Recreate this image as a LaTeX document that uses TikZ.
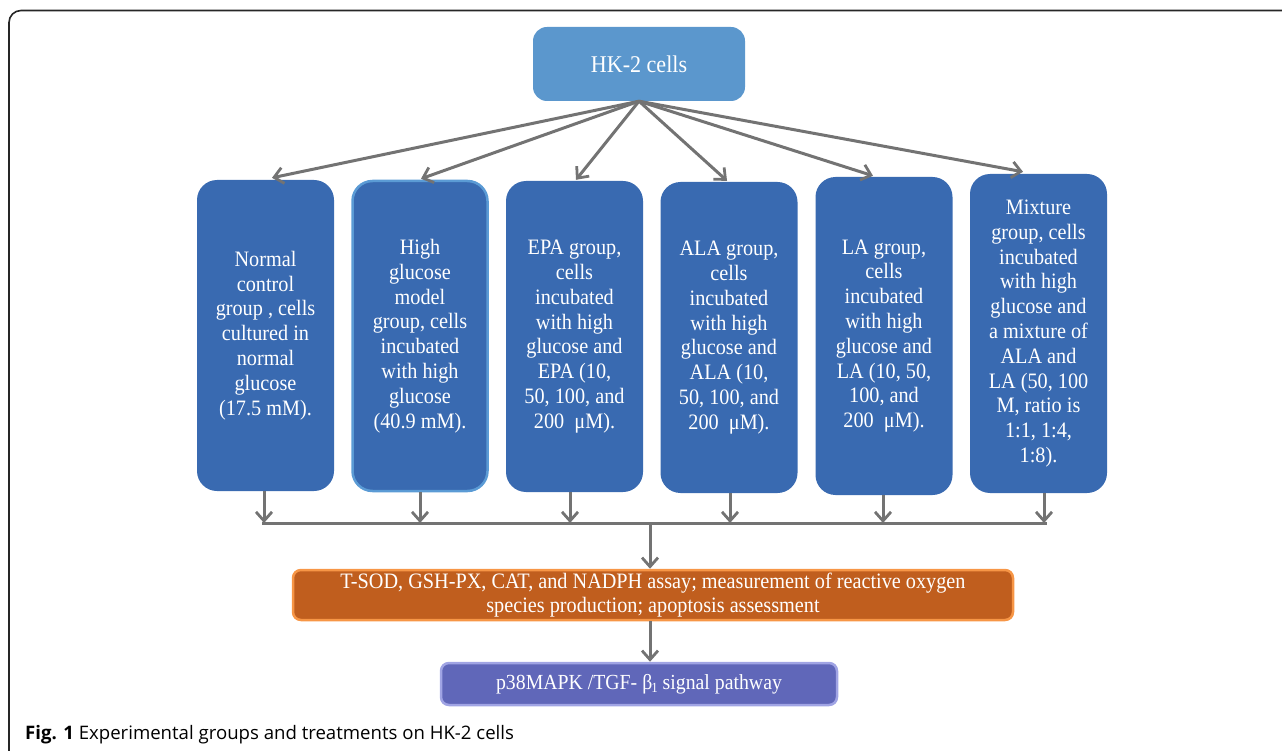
\documentclass[tikz,border=0pt]{standalone}
\usepackage{fontspec}
\setmainfont{Liberation Serif}
\newfontfamily\capfont{Open Sans}
\newfontfamily\condserif{Liberation Serif}[FakeStretch=0.92]
\usetikzlibrary{arrows.meta}
\definecolor{boxblue}{RGB}{57,106,177}
\definecolor{hkblue}{RGB}{91,151,205}
\definecolor{edgeblue}{RGB}{91,155,213}
\definecolor{orangefill}{RGB}{192,94,30}
\definecolor{orangeedge}{RGB}{247,150,70}
\definecolor{purplefill}{RGB}{96,103,185}
\definecolor{purpleedge}{RGB}{160,164,228}
\definecolor{conn}{RGB}{115,115,115}
\tikzset{
  groupbox/.style={draw=none, fill=boxblue, rounded corners=20pt, text=white, align=center,
    inner sep=0pt, minimum width=137pt, font=\condserif\fontsize{22}{24.8}\selectfont},
  conline/.style={draw=conn, line width=3pt},
  conarrow/.style={conline, -{Straight Barb[length=9pt,width=16pt,line width=2.8pt]}},
}
\begin{document}
\begin{tikzpicture}[x=1pt,y=-1pt]
\useasboundingbox (0,0) rectangle (1282,751);
% frame
\draw[line width=1.6pt, black!85, rounded corners=12pt] (1300,10.5) -- (9,10.5) -- (9,763) -- (40,763);

% top node
\node[fill=hkblue, rounded corners=14pt, minimum width=212pt, minimum height=74pt, inner sep=0pt,
  text=white, font=\condserif\fontsize{24}{26}\selectfont] (hk) at (639,64) {HK-2 cells};

% group boxes
\node[groupbox, minimum height=311pt] (b1) at (265.5,335.5)
  {Normal\\control\\group , cells\\cultured in\\normal\\glucose\\(17.5 mM).};
\node[groupbox, minimum height=310pt, draw=edgeblue, line width=2.5pt, minimum width=135pt] (b2) at (420,336)
  {High\\glucose\\model\\group, cells\\incubated\\with high\\glucose\\(40.9 mM).};
\node[groupbox, minimum height=311pt] (b3) at (574.5,336.5)
  {EPA group,\\cells\\incubated\\with high\\glucose and\\EPA (10,\\50, 100, and\\200 \ μM).};
\node[groupbox, minimum height=311pt] (b4) at (729,337.5)
  {ALA group,\\cells\\incubated\\with high\\glucose and\\ALA (10,\\50, 100, and\\200 \ μM).};
\node[groupbox, minimum height=318pt] (b5) at (884,336)
  {LA group,\\cells\\incubated\\with high\\glucose and\\LA (10, 50,\\100, and\\200 \ μM).};
\node[groupbox, minimum height=319pt] (b6) at (1038.5,333.5)
  {Mixture\\group, cells\\incubated\\with high\\glucose and\\a mixture of\\ALA and\\LA (50, 100\\M, ratio is\\1:1, 1:4,\\1:8).};

% assay node
\node[fill=orangefill, draw=orangeedge, line width=2.5pt, rounded corners=8pt, minimum width=720pt,
  minimum height=50pt, inner sep=0pt, text=white, align=center,
  font=\condserif\fontsize{22}{24}\selectfont] (assay) at (653,595)
  {\raisebox{0pt}[0pt][0pt]{}T-SOD, GSH-PX, CAT, and NADPH assay; measurement of reactive oxygen\\species production; apoptosis assessment\rule[-2pt]{0pt}{0pt}};

% pathway node
\node[fill=purplefill, draw=purpleedge, line width=2.5pt, rounded corners=8pt, minimum width=396pt,
  minimum height=42pt, inner sep=0pt, text=white,
  font=\condserif\fontsize{21.5}{24}\selectfont] (path) at (639,684)
  {p38MAPK /TGF- β\kern-1pt\raisebox{-3pt}{\fontsize{14}{14}\selectfont 1} signal pathway};

% top arrows
\draw[conarrow] (hk.south) -- ([xshift=6.5pt,yshift=2pt]b1.north);
\draw[conarrow] (hk.south) -- ([xshift=1pt,yshift=1pt]b2.north);
\draw[conarrow] (hk.south) -- ([xshift=1.5pt,yshift=1pt]b3.north);
\draw[conarrow] (hk.south) -- ([xshift=-2pt,yshift=1pt]b4.north);
\draw[conarrow] (hk.south) -- ([xshift=-11pt,yshift=1pt]b5.north);
\draw[conarrow] (hk.south) -- ([xshift=-15.5pt,yshift=2pt]b6.north);

% bus
\coordinate (busL) at (262,523);
\coordinate (busR) at (1047,523);
\coordinate (busM) at (650,523);
\coordinate (s1) at ([xshift=-1.5pt]b1.south);
\coordinate (s2) at (b2.south);
\coordinate (s3) at ([xshift=-4.5pt]b3.south);
\coordinate (s4) at ([xshift=1pt]b4.south);
\coordinate (s5) at ([xshift=-1pt]b5.south);
\coordinate (s6) at ([xshift=5.5pt]b6.south);
\draw[conline] (busL) -- (busR);
\foreach \s in {s1,s2,s3,s4,s5,s6}
  \draw[conarrow] (\s) -- (\s |- busL);
\draw[conarrow] (busM) -- (busM |- assay.north);
\draw[conarrow] (busM |- assay.south) -- (busM |- path.north);

% caption
\node[anchor=base west, inner sep=0pt, font=\capfont\fontsize{18.6}{20}\selectfont] (cap) at (25,739)
  {\textbf{Fig. 1} Experimental groups and treatments on HK-2 cells};
\end{tikzpicture}
\end{document}
